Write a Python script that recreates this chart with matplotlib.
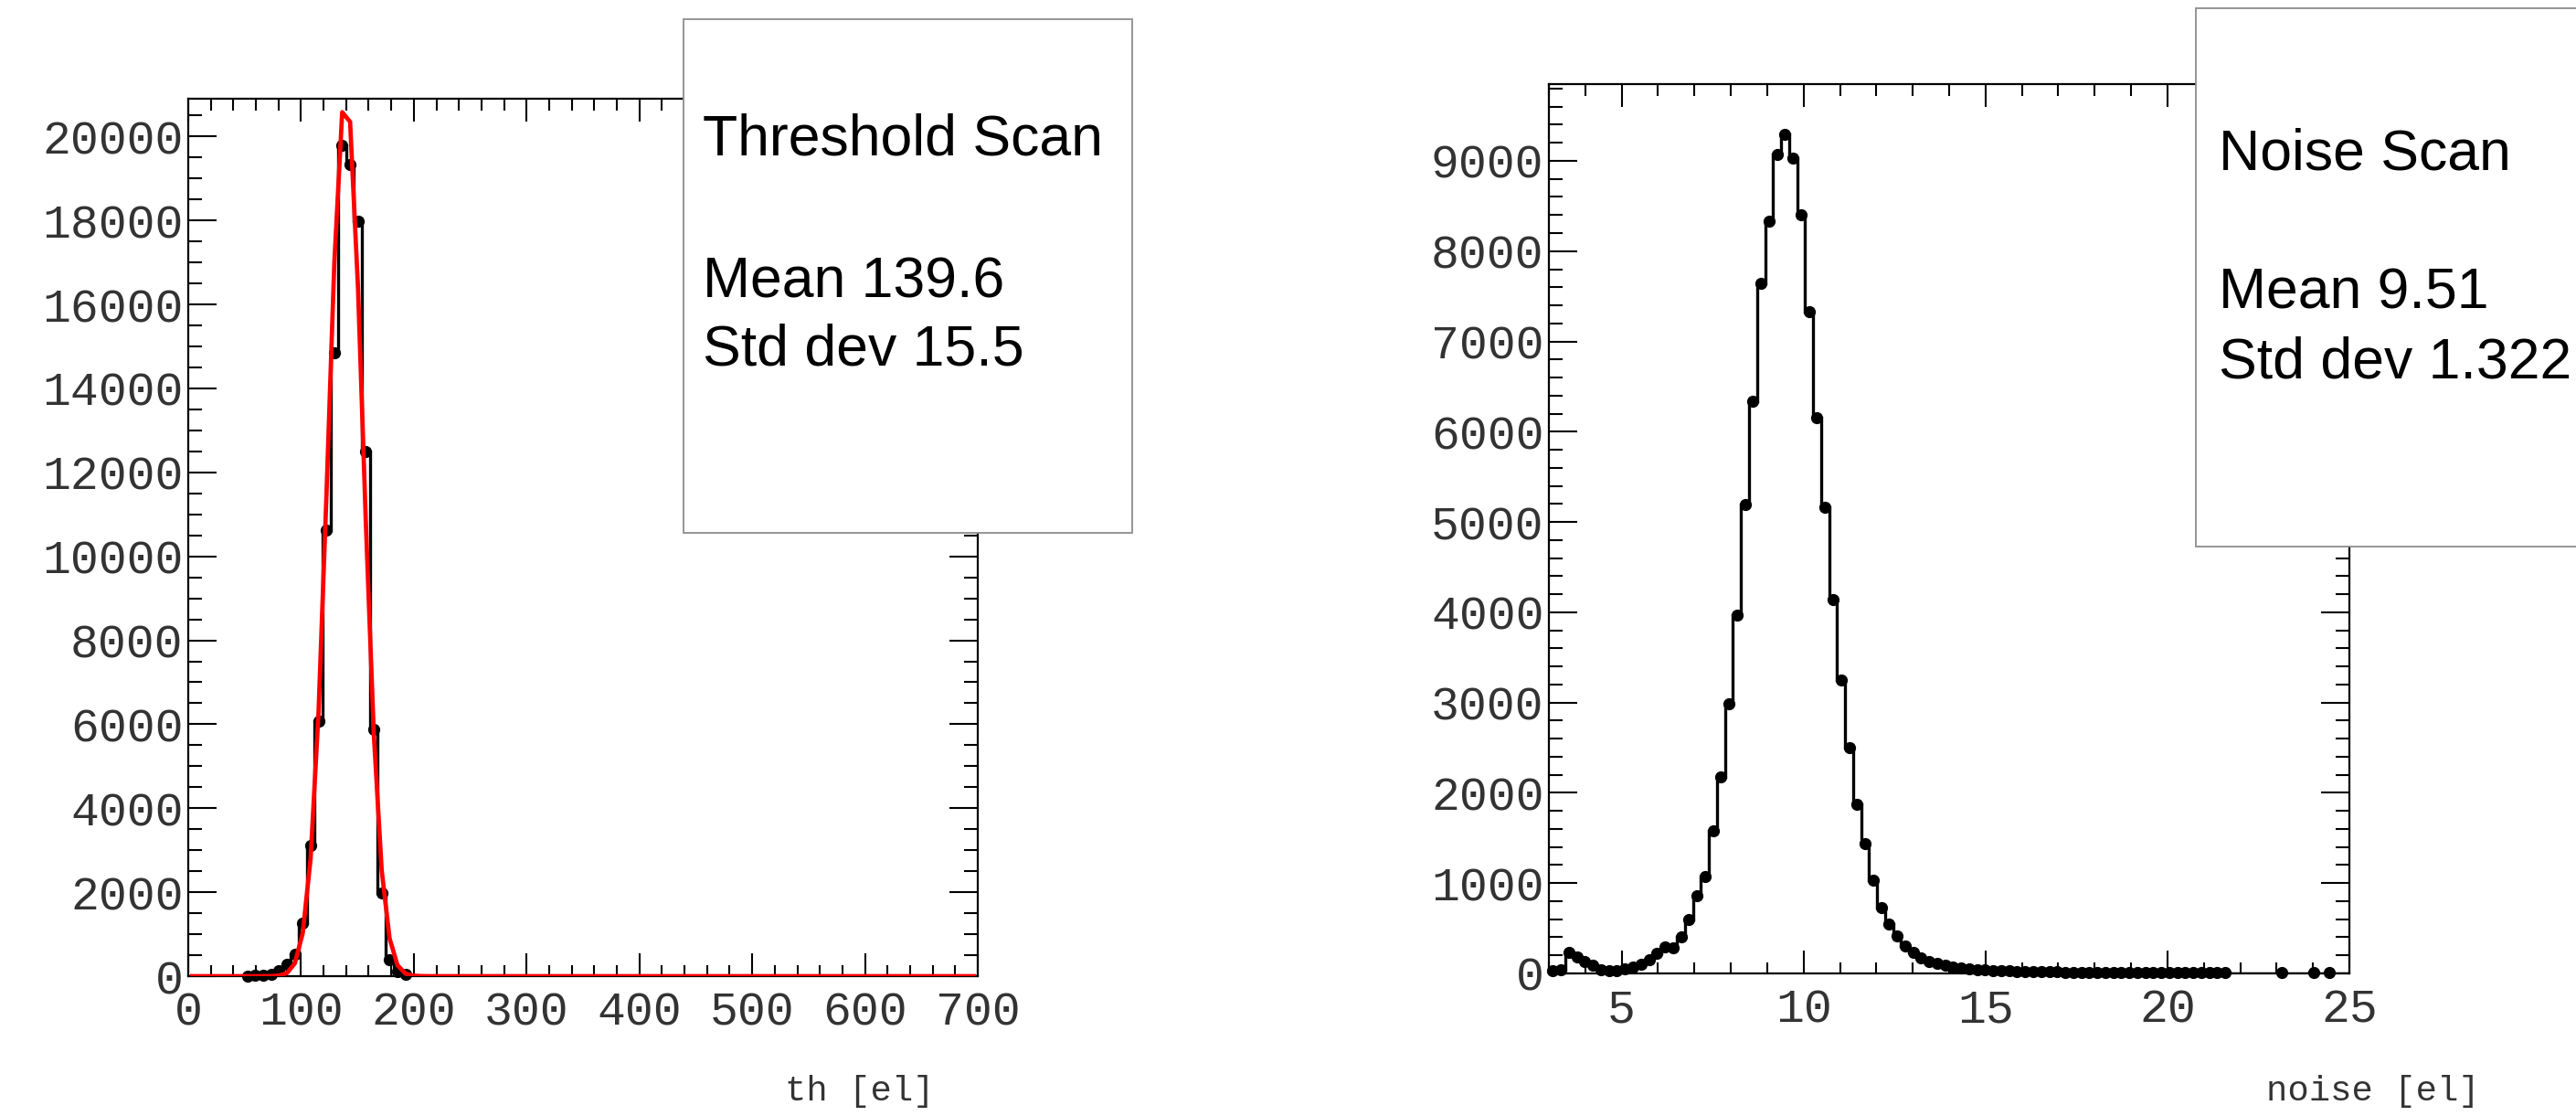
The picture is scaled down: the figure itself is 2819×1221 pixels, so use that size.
import numpy as np
import matplotlib
matplotlib.use('Agg')
import matplotlib.pyplot as plt
from matplotlib.ticker import MultipleLocator
from matplotlib.patches import Rectangle

# threshold scan histogram: 100 bins between 0 and 700
th_edges = np.linspace(0, 700, 101)
th_counts = [0]*7 + [5, 15, 25, 45, 120, 280, 530, 1260, 3110, 6070, 10630, 14840,
                     19780, 19340, 17980, 12500, 5880, 1980, 400, 110, 40] + [0]*72
# red fit curve, one value per bin centre
th_fit = [0]*10 + [2, 14, 74, 305, 1024, 2805, 6270, 11430, 16980, 20580, 20350,
                   16400, 10780, 5780, 2526, 900, 262, 62, 12, 2] + [0]*70

# noise scan histogram: 100 bins between 3 and 25
noise_edges = np.linspace(3, 25, 101)
noise_counts = [27, 44, 235, 180, 135, 88, 45, 35, 35, 47,
                72, 105, 150, 220, 290, 280, 400, 600, 860, 1070,
                1580, 2180, 2990, 3970, 5190, 6340, 7640, 8330, 9070, 9290,
                9030, 8400, 7330, 6160, 5160, 4140, 3250, 2500, 1870, 1440,
                1030, 730, 545, 415, 305, 230, 170, 135, 110, 90,
                75, 62, 52, 44, 38, 33, 29, 26, 23, 21, 19,
                18, 17, 16, 15, 15, 14, 13, 13, 12, 12, 11, 11, 10, 10, 9, 9, 9, 8, 8, 8, 7, 7, 7, 6,
                0, 0, 0, 0, 0, 0, 6, 0, 0, 0, 6, 0, 6, 0, 0]

th_box = ["Threshold Scan", "Mean 139.6", "Std dev 15.5"]
noise_box = ["Noise Scan", "Mean 9.51", "Std dev 1.322"]

W, H = 2819, 1221
fig = plt.figure(figsize=(W/100, H/100), dpi=100)

mono = 'Liberation Mono'
sans = 'Liberation Sans'


def px_axes(l, t, r, b):
    return fig.add_axes([l/W, 1 - b/H, (r - l)/W, (b - t)/H])


def root_style(ax, xmaj, xmin, ymaj, ymin):
    for s in ax.spines.values():
        s.set_linewidth(1.6)
    ax.xaxis.set_major_locator(MultipleLocator(xmaj))
    ax.xaxis.set_minor_locator(MultipleLocator(xmin))
    ax.yaxis.set_major_locator(MultipleLocator(ymaj))
    ax.yaxis.set_minor_locator(MultipleLocator(ymin))
    ax.tick_params(which='both', direction='in', top=True, right=True, width=1.5)
    ax.tick_params(axis='x', which='major', length=18, pad=11)
    ax.tick_params(axis='x', which='minor', length=9)
    ax.tick_params(axis='y', which='major', length=22, pad=4)
    ax.tick_params(axis='y', which='minor', length=11)
    for lab in ax.get_xticklabels() + ax.get_yticklabels():
        lab.set_fontfamily(mono)
        lab.set_fontsize(37)
        lab.set_color('#333333')


def draw_hist(ax, edges, counts):
    counts = np.array(counts, dtype=float)
    centers = 0.5 * (edges[:-1] + edges[1:])
    ax.stairs(counts, edges, baseline=None, color='black', lw=2.4, zorder=3)
    m = counts > 0
    ax.plot(centers[m], counts[m], 'o', color='black', ms=8.5, clip_on=False, zorder=4)
    return centers


# left: threshold
ax1 = px_axes(206, 108, 1070, 1068)
c1 = draw_hist(ax1, th_edges, th_counts)
ax1.plot(c1, th_fit, color='red', lw=3.4, zorder=5)
ax1.set_xlim(0, 700)
ax1.set_ylim(0, 20900)
root_style(ax1, 100, 20, 2000, 500)
ax1.set_xlabel('th [el]', fontfamily=mono, fontsize=28, color='#333333', ha='center', va='center')
ax1.xaxis.set_label_coords(0.85, -0.131)

# right: noise
ax2 = px_axes(1695, 92, 2571, 1065)
draw_hist(ax2, noise_edges, noise_counts)
ax2.set_xlim(3, 25)
ax2.set_ylim(0, 9850)
root_style(ax2, 5, 1, 1000, 200)
ax2.set_xlabel('noise [el]', fontfamily=mono, fontsize=28, color='#333333', ha='center', va='center')
ax2.xaxis.set_label_coords(1.03, -0.133)


def stat_box(l, t, r, b, lines, x0, baselines):
    fig.add_artist(Rectangle((l/W, 1 - b/H), (r - l)/W, (b - t)/H, transform=fig.transFigure,
                             facecolor='white', edgecolor='#8c8c8c', lw=1.3, zorder=10))
    for txt, y in zip(lines, baselines):
        fig.text(x0/W, 1 - y/H, txt, fontfamily=sans, fontsize=45, va='baseline',
                 ha='left', zorder=11)


stat_box(748, 21, 1239, 583, th_box, 769, [169, 326, 400])
stat_box(2403, 9, 2840, 598, noise_box, 2428, [185, 338, 413])

fig.savefig('out.png', dpi=100)
